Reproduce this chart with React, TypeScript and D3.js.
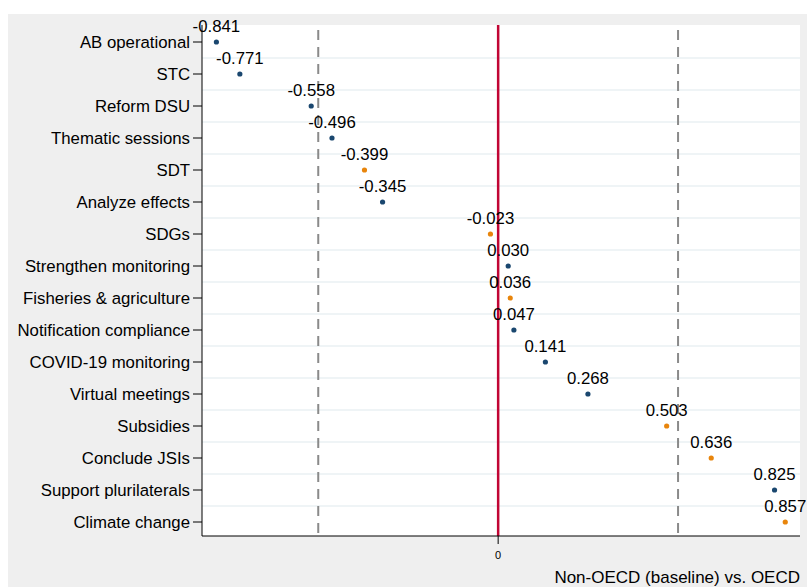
import React from "react";
import * as d3 from "d3";

const categories = [
  "AB operational",
  "STC",
  "Reform DSU",
  "Thematic sessions",
  "SDT",
  "Analyze effects",
  "SDGs",
  "Strengthen monitoring",
  "Fisheries & agriculture",
  "Notification compliance",
  "COVID-19 monitoring",
  "Virtual meetings",
  "Subsidies",
  "Conclude JSIs",
  "Support plurilaterals",
  "Climate change",
];
const values = [
  -0.841, -0.771, -0.558, -0.496, -0.399, -0.345, -0.023, 0.03, 0.036, 0.047,
  0.141, 0.268, 0.503, 0.636, 0.825, 0.857,
];
// 1 = orange group, 0 = navy group
const groups = [0, 0, 0, 0, 1, 0, 1, 0, 1, 0, 0, 0, 1, 1, 0, 1];
const refLines = [-0.537, 0.537];
const xTicks = [0];
const xTitle = "Non-OECD (baseline) vs. OECD";

const W = 807;
const H = 587;
const font = "'Liberation Sans', Arial, sans-serif";

const App = () => {
  const left = 202;
  const right = 800;
  const top = 25;
  const bottom = 536;

  const x = d3.scaleLinear().domain([-0.884, 0.901]).range([left, right]);
  const y = d3
    .scalePoint<string>()
    .domain(categories)
    .range([42, 522]);
  const step = y.step();
  const color = (g: number) => (g === 1 ? "#e8850c" : "#1a476f");

  return (
    <svg
      width={W}
      height={H}
      style={{ position: "absolute", left: 0, top: 0, fontFamily: font }}
    >
      <rect x={0} y={0} width={W} height={H} fill="#ffffff" />
      <rect x={8} y={14} width={W - 8} height={H - 14} fill="#efefef" />
      <rect x={left} y={top} width={right - left} height={bottom - top} fill="#ffffff" />

      {categories.slice(1).map((c) => (
        <line
          key={"g" + c}
          x1={left}
          x2={right}
          y1={y(c)! - step / 2}
          y2={y(c)! - step / 2}
          stroke="#eaf1f3"
          strokeWidth={1.5}
        />
      ))}

      {refLines.map((v) => (
        <line
          key={"r" + v}
          x1={x(v)}
          x2={x(v)}
          y1={30}
          y2={bottom}
          stroke="#8a8a8a"
          strokeWidth={2}
          strokeDasharray="10,7"
        />
      ))}
      <line x1={x(0)} x2={x(0)} y1={top} y2={bottom} stroke="#c10534" strokeWidth={2.5} />

      {/* axes */}
      <line x1={left} x2={left} y1={top} y2={bottom} stroke="#000" strokeWidth={1} />
      <line x1={left} x2={right} y1={bottom} y2={bottom} stroke="#000" strokeWidth={1} />
      {categories.map((c) => (
        <g key={"yl" + c}>
          <line x1={left - 9} x2={left} y1={y(c)} y2={y(c)} stroke="#000" />
          <text x={left - 12} y={y(c)! + 5.5} textAnchor="end" fontSize={16.8} fill="#000">
            {c}
          </text>
        </g>
      ))}
      {xTicks.map((t) => (
        <g key={"xt" + t}>
          <line x1={x(t)} x2={x(t)} y1={bottom} y2={bottom + 8} stroke="#000" />
          <text x={x(t)} y={bottom + 23} textAnchor="middle" fontSize={11} fill="#000">
            {t}
          </text>
        </g>
      ))}
      <text x={right} y={583} textAnchor="end" fontSize={17} fill="#000">
        {xTitle}
      </text>

      {categories.map((c, i) => (
        <g key={"p" + c}>
          <circle cx={x(values[i])} cy={y(c)} r={2.6} fill={color(groups[i])} />
          <text
            x={x(values[i])}
            y={y(c)! - 10}
            textAnchor="middle"
            fontSize={16.8}
            fill="#000"
          >
            {values[i].toFixed(3)}
          </text>
        </g>
      ))}
    </svg>
  );
};

export default App;
